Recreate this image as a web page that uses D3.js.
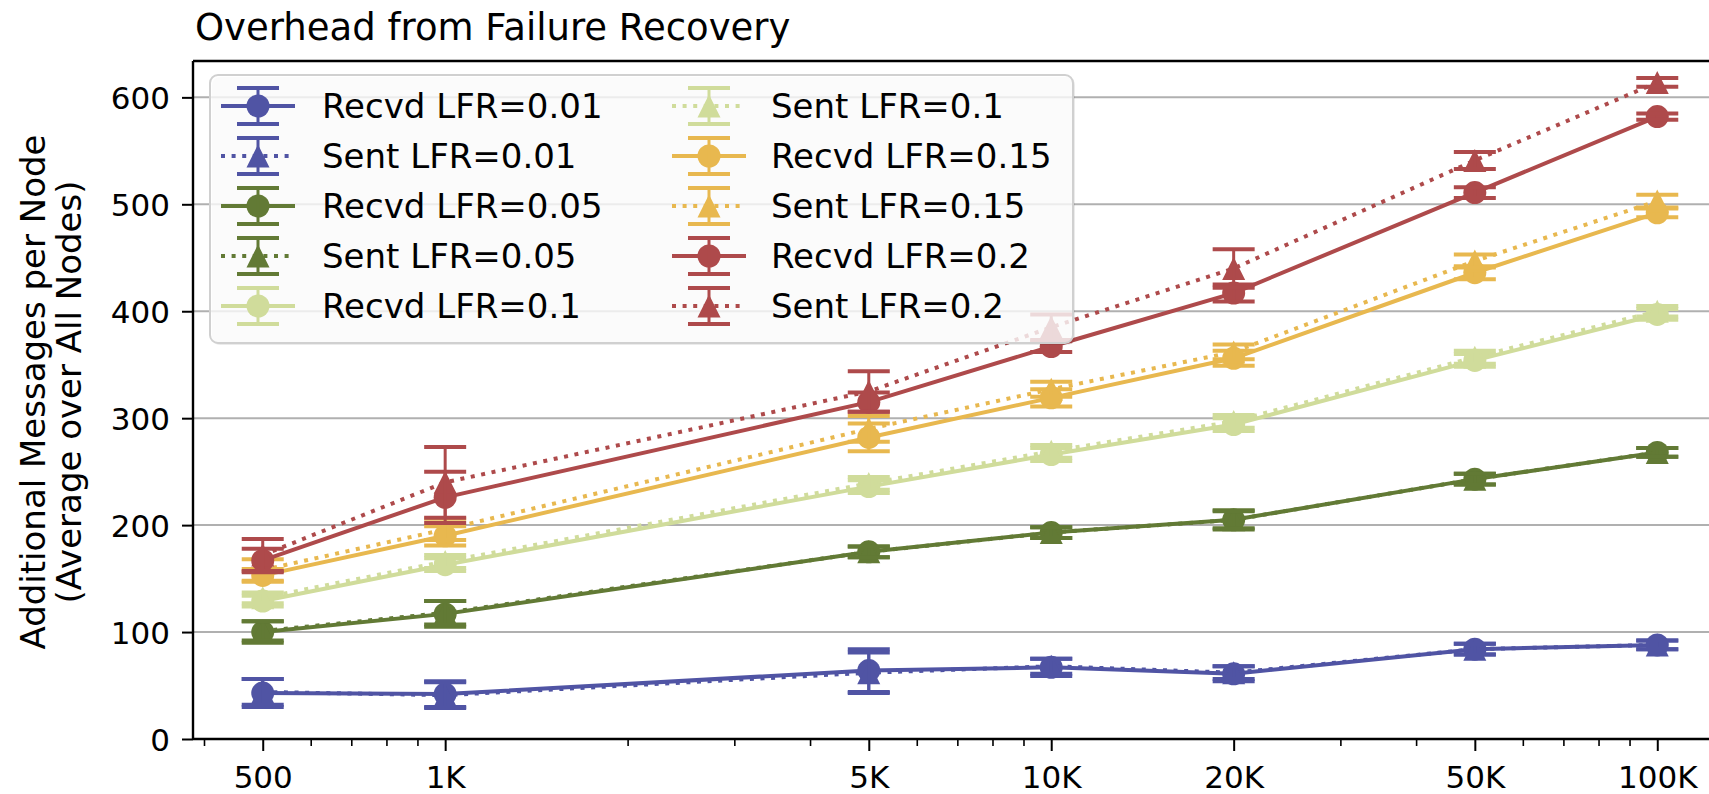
<!DOCTYPE html>
<html>
<head>
<meta charset="utf-8">
<script src="https://cdn.jsdelivr.net/npm/d3@7/dist/d3.min.js"></script>
<style>
  body { margin: 0; background: #fff; }
  text { font-family: "DejaVu Sans", sans-serif; fill: #000; }
</style>
</head>
<body>
<div id="chart"></div>
<script>
// network sizes on the x axis
const sizes = [500, 1000, 5000, 10000, 20000, 50000, 100000];
const sizeLabels = ["500", "1K", "5K", "10K", "20K", "50K", "100K"];
const yTicks = [0, 100, 200, 300, 400, 500, 600];
const minorTicks = [400, 600, 700, 800, 900, 2000, 3000, 4000, 6000, 7000, 8000, 9000,
                    30000, 40000, 60000, 70000, 80000, 90000];

// values (mean and error half-width)
const recvd001 = [43, 42, 64, 67, 61, 84, 88];
const recvd001Err = [13, 12, 20, 8, 7, 5, 4];
const sent001 = [44, 41, 62, 68, 62, 84, 88];
const sent001Err = [12, 12, 19, 7, 6, 5, 4];
const recvd005 = [100, 117, 175, 193, 205, 243, 268];
const recvd005Err = [10, 12, 5, 5, 9, 5, 4];
const sent005 = [101, 118, 175, 193, 205, 243, 268];
const sent005Err = [9, 11, 5, 5, 8, 5, 4];
const recvd01 = [129, 163, 236, 266, 294, 354, 397];
const recvd01Err = [5, 6, 6, 6, 6, 6, 5];
const sent01 = [132, 166, 239, 269, 297, 357, 400];
const sent01Err = [5, 6, 6, 6, 6, 6, 5];
const recvd015 = [153, 190, 282, 319, 356, 436, 492];
const recvd015Err = [6, 9, 13, 8, 7, 6, 4];
const sent015 = [158, 196, 290, 327, 362, 447, 503];
const sent015Err = [10, 10, 12, 7, 7, 6, 6];
const recvd02 = [167, 226, 315, 367, 417, 511, 582];
const recvd02Err = [11, 24, 9, 5, 8, 5, 3];
const sent02 = [172, 240, 325, 385, 440, 541, 614];
const sent02Err = [15, 33, 19, 12, 18, 8, 4];

const blue = "#5054a4", green = "#627a35", light = "#d0dc9b", yellow = "#e8b84f", red = "#ae4a4b";

const series = [
  {name: "Recvd LFR=0.01", v: recvd001, e: recvd001Err, c: blue, sent: false},
  {name: "Sent LFR=0.01", v: sent001, e: sent001Err, c: blue, sent: true},
  {name: "Recvd LFR=0.05", v: recvd005, e: recvd005Err, c: green, sent: false},
  {name: "Sent LFR=0.05", v: sent005, e: sent005Err, c: green, sent: true},
  {name: "Recvd LFR=0.1", v: recvd01, e: recvd01Err, c: light, sent: false},
  {name: "Sent LFR=0.1", v: sent01, e: sent01Err, c: light, sent: true},
  {name: "Recvd LFR=0.15", v: recvd015, e: recvd015Err, c: yellow, sent: false},
  {name: "Sent LFR=0.15", v: sent015, e: sent015Err, c: yellow, sent: true},
  {name: "Recvd LFR=0.2", v: recvd02, e: recvd02Err, c: red, sent: false},
  {name: "Sent LFR=0.2", v: sent02, e: sent02Err, c: red, sent: true}
];

const width = 1709, height = 794;
const mLeft = 193, mRight = 1727, mTop = 61, mBottom = 739;

// matplotlib style log margins (5% of the span on each side)
const span = Math.log10(100000 / 500);
const lo = 500 / Math.pow(10, 0.05 * span), hi = 100000 * Math.pow(10, 0.05 * span);

const x = d3.scaleLog().domain([lo, hi]).range([mLeft, mRight]);
const y = d3.scaleLinear().domain([0, 634]).range([mBottom, mTop]);

const svg = d3.select("#chart").append("svg")
  .attr("width", width)
  .attr("height", height);

// grid
svg.append("g")
  .selectAll("line")
  .data(yTicks)
  .enter().append("line")
  .attr("x1", mLeft).attr("x2", mRight)
  .attr("y1", d => y(d)).attr("y2", d => y(d))
  .attr("stroke", "#b0b0b0")
  .attr("stroke-width", 2);

const lw = 4, capW = 21, mk = 11.5;

function marker(g, sent, color, cx, cy) {
  if (sent) {
    g.append("path")
      .attr("d", `M${cx},${cy - mk} L${cx + mk},${cy + mk} L${cx - mk},${cy + mk} Z`)
      .attr("fill", color);
  } else {
    g.append("circle").attr("cx", cx).attr("cy", cy).attr("r", mk).attr("fill", color);
  }
}

const plot = svg.append("g");

series.forEach(s => {
  const g = plot.append("g");
  const pts = sizes.map((n, i) => ({n: n, v: s.v[i], e: s.e[i]}));

  g.append("path")
    .datum(pts)
    .attr("fill", "none")
    .attr("stroke", s.c)
    .attr("stroke-width", lw)
    .attr("stroke-dasharray", s.sent ? "4,6.6" : null)
    .attr("d", d3.line().x(d => x(d.n)).y(d => y(d.v)));

  pts.forEach(d => {
    const cx = x(d.n);
    marker(g, s.sent, s.c, cx, y(d.v));
    g.append("line")
      .attr("x1", cx).attr("x2", cx)
      .attr("y1", y(d.v - d.e)).attr("y2", y(d.v + d.e))
      .attr("stroke", s.c).attr("stroke-width", 3);
    [d.v - d.e, d.v + d.e].forEach(val => {
      g.append("line")
        .attr("x1", cx - capW).attr("x2", cx + capW)
        .attr("y1", y(val)).attr("y2", y(val))
        .attr("stroke", s.c).attr("stroke-width", 4);
    });
  });
});

// axes
const yAxis = d3.axisLeft(y).tickValues(yTicks).tickSize(11).tickPadding(12);
const gy = svg.append("g").attr("transform", `translate(${mLeft},0)`).call(yAxis);
gy.select(".domain").remove();
gy.selectAll(".tick line").attr("stroke", "#000").attr("stroke-width", 2);
gy.selectAll(".tick text").style("font-size", "31px").attr("dy", "0.36em");

const xAxis = d3.axisBottom(x).tickValues(sizes).tickFormat((d, i) => sizeLabels[i]).tickSize(12).tickPadding(15);
const gx = svg.append("g").attr("transform", `translate(0,${mBottom})`).call(xAxis);
gx.select(".domain").remove();
gx.selectAll(".tick line").attr("stroke", "#000").attr("stroke-width", 2);
gx.selectAll(".tick text").style("font-size", "31px");

const xMinor = d3.axisBottom(x).tickValues(minorTicks).tickSize(7).tickFormat("");
const gm = svg.append("g").attr("transform", `translate(0,${mBottom})`).call(xMinor);
gm.select(".domain").remove();
gm.selectAll(".tick line").attr("stroke", "#000").attr("stroke-width", 1.6);

// spines
svg.append("line").attr("x1", mLeft).attr("x2", mLeft).attr("y1", mTop).attr("y2", mBottom)
  .attr("stroke", "#000").attr("stroke-width", 2.4);
svg.append("line").attr("x1", mLeft).attr("x2", mRight).attr("y1", mBottom).attr("y2", mBottom)
  .attr("stroke", "#000").attr("stroke-width", 2.4);
svg.append("line").attr("x1", mLeft).attr("x2", mRight).attr("y1", mTop).attr("y2", mTop)
  .attr("stroke", "#000").attr("stroke-width", 2.4);

// legend
const leg = svg.append("g");
leg.append("rect")
  .attr("x", 212).attr("y", 77).attr("width", 863).attr("height", 268)
  .attr("rx", 8)
  .attr("fill", "#000").attr("opacity", 0.08);
leg.append("rect")
  .attr("x", 210).attr("y", 75).attr("width", 863).attr("height", 268)
  .attr("rx", 8)
  .attr("fill", "#fff").attr("fill-opacity", 0.8)
  .attr("stroke", "#d0d0d0").attr("stroke-width", 2);

series.forEach((s, i) => {
  const col = Math.floor(i / 5), row = i % 5;
  const hx = col === 0 ? 221 : 672;
  const tx = col === 0 ? 322 : 771;
  const cy = 106 + row * 50;
  const cx = hx + 37;
  const g = leg.append("g");
  g.append("line")
    .attr("x1", hx).attr("x2", hx + 74).attr("y1", cy).attr("y2", cy)
    .attr("stroke", s.c).attr("stroke-width", lw)
    .attr("stroke-dasharray", s.sent ? "4,6.6" : null);
  marker(g, s.sent, s.c, cx, cy);
  g.append("line")
    .attr("x1", cx).attr("x2", cx).attr("y1", cy - 18).attr("y2", cy + 18)
    .attr("stroke", s.c).attr("stroke-width", 3);
  [cy - 18, cy + 18].forEach(yy => {
    g.append("line")
      .attr("x1", cx - capW).attr("x2", cx + capW).attr("y1", yy).attr("y2", yy)
      .attr("stroke", s.c).attr("stroke-width", 4);
  });
  g.append("text")
    .attr("x", tx).attr("y", cy)
    .attr("dy", "0.36em")
    .style("font-size", "34px")
    .text(s.name);
});

// title
svg.append("text")
  .attr("x", 195).attr("y", 40)
  .style("font-size", "37px")
  .text("Overhead from Failure Recovery");

// y label (two lines)
const yl = svg.append("text")
  .attr("transform", `translate(0,392) rotate(-90)`)
  .attr("text-anchor", "middle")
  .style("font-size", "34px");
yl.append("tspan").attr("x", 0).attr("y", 45).text("Additional Messages per Node");
yl.append("tspan").attr("x", 0).attr("y", 81).text("(Average over All Nodes)");
</script>
</body>
</html>
